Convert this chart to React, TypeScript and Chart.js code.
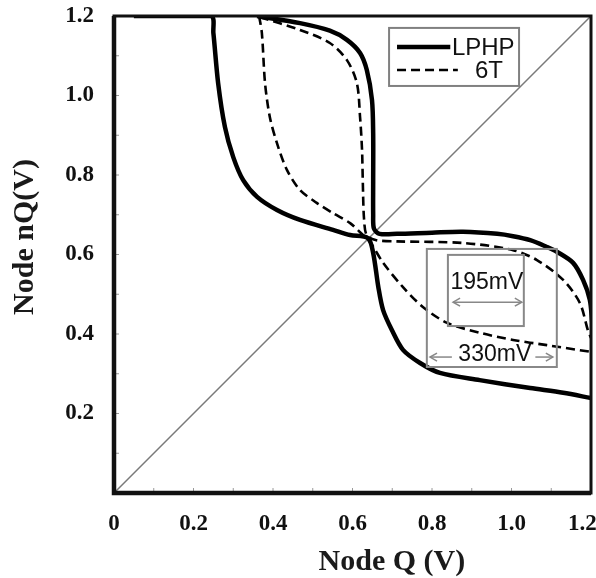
import React, { useEffect, useRef } from 'react';
import { Chart, registerables } from 'chart.js';

Chart.register(...registerables);

// ---- Data (Volts) ----
// LPHP, first inverter curve
const lphpFwdQ = [0.05, 0.244, 0.25, 0.262, 0.279, 0.30, 0.325, 0.36, 0.41, 0.468, 0.551, 0.594, 0.639, 0.652, 0.665, 0.677, 0.699, 0.727, 0.77, 0.82, 0.92, 1.047, 1.13, 1.2];
const lphpFwdNQ = [1.2, 1.2, 1.157, 1.031, 0.921, 0.845, 0.787, 0.745, 0.712, 0.687, 0.662, 0.649, 0.641, 0.604, 0.518, 0.46, 0.41, 0.36, 0.327, 0.302, 0.284, 0.264, 0.252, 0.239];
// LPHP, second inverter curve
const lphpRevQ = [0.36, 0.468, 0.543, 0.586, 0.619, 0.636, 0.649, 0.652, 0.652, 0.652, 0.654, 0.668, 0.712, 0.8, 0.878, 0.964, 1.004, 1.047, 1.089, 1.114, 1.155, 1.18, 1.197, 1.203];
const lphpRevNQ = [1.2, 1.182, 1.163, 1.14, 1.107, 1.064, 0.989, 0.905, 0.78, 0.70, 0.665, 0.652, 0.652, 0.655, 0.657, 0.652, 0.646, 0.636, 0.619, 0.607, 0.579, 0.536, 0.486, 0.43];
// 6T, first inverter curve
const t6FwdQ = [0.365, 0.372, 0.38, 0.392, 0.41, 0.435, 0.468, 0.51, 0.551, 0.594, 0.619, 0.645, 0.677, 0.727, 0.777, 0.838, 0.921, 1.004, 1.089, 1.2];
const t6FwdNQ = [1.2, 1.157, 1.031, 0.946, 0.88, 0.813, 0.762, 0.73, 0.704, 0.679, 0.656, 0.630, 0.579, 0.518, 0.468, 0.428, 0.403, 0.385, 0.372, 0.355];
// 6T, second inverter curve
const t6RevQ = [0.367, 0.468, 0.543, 0.586, 0.611, 0.619, 0.624, 0.626, 0.629, 0.636, 0.66, 0.712, 0.878, 1.004, 1.064, 1.13, 1.172, 1.192, 1.2];
const t6RevNQ = [1.197, 1.165, 1.132, 1.089, 1.031, 0.946, 0.863, 0.78, 0.69, 0.648, 0.636, 0.633, 0.629, 0.611, 0.586, 0.536, 0.478, 0.41, 0.39];
// Reference diagonal nQ = Q
const diagQ = [0, 1.2];
const diagNQ = [0, 1.2];

const minorTicks = [0.1, 0.2, 0.3, 0.4, 0.5, 0.6, 0.7, 0.8, 0.9, 1.0, 1.1];
const legendLabels = ['LPHP', '6T'];
const marginLabels = ['195mV', '330mV'];
const xTitle = 'Node Q (V)';
const yTitle = 'Node nQ(V)';

const pts = (xs: number[], ys: number[]) => xs.map((x, i) => ({ x, y: ys[i] }));

const SERIF = '"Liberation Serif", "Times New Roman", Times, serif';
const SANS = '"Liberation Sans", Arial, Helvetica, sans-serif';

function head(ctx: CanvasRenderingContext2D, x: number, y: number, dir: number) {
  ctx.beginPath();
  ctx.moveTo(x - dir * 7, y - 4);
  ctx.lineTo(x, y);
  ctx.lineTo(x - dir * 7, y + 4);
  ctx.stroke();
}

const decorPlugin = {
  id: 'decor',
  afterDatasetsDraw(chart: any) {
    const { ctx, chartArea: a, scales } = chart;
    const px = (v: number) => scales.x.getPixelForValue(v);
    const py = (v: number) => scales.y.getPixelForValue(v);
    ctx.save();

    // inward minor ticks
    ctx.strokeStyle = '#9a9a9a';
    ctx.lineWidth = 1;
    ctx.setLineDash([]);
    for (const v of minorTicks) {
      const X = px(v);
      ctx.beginPath(); ctx.moveTo(X, a.bottom); ctx.lineTo(X, a.bottom - 5); ctx.stroke();
      const Y = py(v);
      ctx.beginPath(); ctx.moveTo(a.left, Y); ctx.lineTo(a.left + 5, Y); ctx.stroke();
    }

    // frame
    ctx.strokeStyle = '#111';
    ctx.lineWidth = 3;
    ctx.strokeRect(a.left, a.top, a.right - a.left, a.bottom - a.top);
    ctx.lineWidth = 4.5;
    ctx.beginPath();
    ctx.moveTo(a.left, a.top);
    ctx.lineTo(a.left, a.bottom);
    ctx.lineTo(a.right, a.bottom);
    ctx.stroke();

    // legend
    const ds = chart.data.datasets;
    ctx.strokeStyle = '#808080';
    ctx.lineWidth = 2;
    const lx0 = px(0.692), lx1 = px(1.019), ly0 = py(1.17), ly1 = py(1.024);
    ctx.strokeRect(lx0, ly0, lx1 - lx0, ly1 - ly0);
    const rows = [
      { d: ds[0], y: py(1.122), x0: px(0.712), x1: px(0.846), tx: px(0.85) },
      { d: ds[2], y: py(1.064), x0: px(0.712), x1: px(0.865), tx: px(0.908) },
    ];
    ctx.font = `24px ${SANS}`;
    ctx.textBaseline = 'middle';
    ctx.textAlign = 'left';
    rows.forEach((r, i) => {
      ctx.strokeStyle = r.d.borderColor;
      ctx.lineWidth = r.d.borderWidth;
      ctx.setLineDash(r.d.borderDash || []);
      ctx.beginPath(); ctx.moveTo(r.x0, r.y); ctx.lineTo(r.x1, r.y); ctx.stroke();
      ctx.setLineDash([]);
      ctx.fillStyle = '#111';
      ctx.fillText(legendLabels[i], r.tx, r.y + 1);
    });

    // noise-margin annotation boxes
    ctx.strokeStyle = '#888';
    ctx.lineWidth = 2;
    const ox0 = px(0.787), ox1 = px(1.114), oy0 = py(0.614), oy1 = py(0.317);
    ctx.strokeRect(ox0, oy0, ox1 - ox0, oy1 - oy0);
    const ix0 = px(0.84), ix1 = px(1.031), iy0 = py(0.599), iy1 = py(0.42);
    ctx.strokeRect(ix0, iy0, ix1 - ix0, iy1 - iy0);

    // 195mV arrow
    ctx.lineWidth = 1.5;
    const a1y = py(0.48), a1x0 = px(0.853), a1x1 = px(1.026);
    ctx.beginPath(); ctx.moveTo(a1x0, a1y); ctx.lineTo(a1x1, a1y); ctx.stroke();
    head(ctx, a1x0, a1y, -1); head(ctx, a1x1, a1y, 1);
    // 330mV arrow (split around label)
    const a2y = py(0.342), a2x0 = px(0.795), a2x1 = px(1.104);
    ctx.beginPath(); ctx.moveTo(a2x0, a2y); ctx.lineTo(px(0.85), a2y); ctx.stroke();
    ctx.beginPath(); ctx.moveTo(px(1.06), a2y); ctx.lineTo(a2x1, a2y); ctx.stroke();
    head(ctx, a2x0, a2y, -1); head(ctx, a2x1, a2y, 1);

    ctx.font = `23px ${SANS}`;
    ctx.textAlign = 'center';
    ctx.fillStyle = '#111';
    ctx.fillText(marginLabels[0], px(0.938), py(0.528));
    ctx.fillText(marginLabels[1], px(0.958), py(0.347));

    // axis titles
    ctx.font = `bold 30px ${SERIF}`;
    ctx.fillStyle = '#1a1a1a';
    ctx.textAlign = 'center';
    ctx.textBaseline = 'middle';
    ctx.fillText(xTitle, px(0.699), a.bottom + 69);
    ctx.save();
    ctx.translate(a.left - 89, py(0.644));
    ctx.rotate(-Math.PI / 2);
    ctx.fillText(yTitle, 0, 0);
    ctx.restore();

    ctx.restore();
  },
};

export default function App() {
  const ref = useRef<HTMLCanvasElement>(null);

  useEffect(() => {
    const solid = { borderColor: '#000', borderWidth: 4.5, borderDash: [] as number[] };
    const dashed = { borderColor: '#000', borderWidth: 2.6, borderDash: [9, 5] };
    const common = { showLine: true, pointRadius: 0, pointHoverRadius: 0, tension: 0.3, borderJoinStyle: 'round' as const, fill: false };
    const chart = new Chart(ref.current!, {
      type: 'scatter',
      data: {
        datasets: [
          { label: 'LPHP', data: pts(lphpFwdQ, lphpFwdNQ), ...common, ...solid },
          { label: 'LPHP (mirror)', data: pts(lphpRevQ, lphpRevNQ), ...common, ...solid },
          { label: '6T', data: pts(t6FwdQ, t6FwdNQ), ...common, ...dashed },
          { label: '6T (mirror)', data: pts(t6RevQ, t6RevNQ), ...common, ...dashed },
          { label: 'nQ = Q', data: pts(diagQ, diagNQ), ...common, tension: 0, borderColor: '#7a7a7a', borderWidth: 1.5, order: 10 },
        ],
      },
      options: {
        animation: false,
        responsive: false,
        devicePixelRatio: 1,
        layout: { padding: { left: 0, right: 5, top: 16, bottom: 0 } },
        plugins: { legend: { display: false }, tooltip: { enabled: false } },
        scales: {
          x: {
            type: 'linear',
            min: 0,
            max: 1.2,
            grid: { display: false, drawTicks: false },
            border: { display: false },
            ticks: {
              stepSize: 0.2,
              autoSkip: false,
              maxRotation: 0,
              padding: 17,
              color: '#111',
              font: { family: SERIF, weight: 'bold', size: 23 },
              callback: (v: any) => {
                const n = Number(v);
                if (Math.abs(n) < 1e-9) return '0';
                if (Math.abs(n - 1.2) < 1e-9) return '1.2   ';
                return n.toFixed(1);
              },
            },
            afterFit: (s: any) => { s.height = 85; s.paddingLeft = 0; s.paddingRight = 0; },
          },
          y: {
            type: 'linear',
            min: 0,
            max: 1.2,
            grid: { display: false, drawTicks: false },
            border: { display: false },
            ticks: {
              stepSize: 0.2,
              autoSkip: false,
              padding: 20,
              color: '#111',
              font: { family: SERIF, weight: 'bold', size: 23 },
              callback: (v: any) => {
                const n = Number(v);
                return Math.abs(n) < 1e-9 ? '' : n.toFixed(1);
              },
            },
            afterFit: (s: any) => { s.width = 114; s.paddingTop = 0; s.paddingBottom = 0; },
          },
        },
      },
      plugins: [decorPlugin],
    } as any);
    return () => chart.destroy();
  }, []);

  return (
    <div style={{ position: 'absolute', left: 0, top: 0, width: 596, height: 578, background: '#fff' }}>
      <canvas ref={ref} width={596} height={578} style={{ display: 'block', width: 596, height: 578 }} />
    </div>
  );
}
